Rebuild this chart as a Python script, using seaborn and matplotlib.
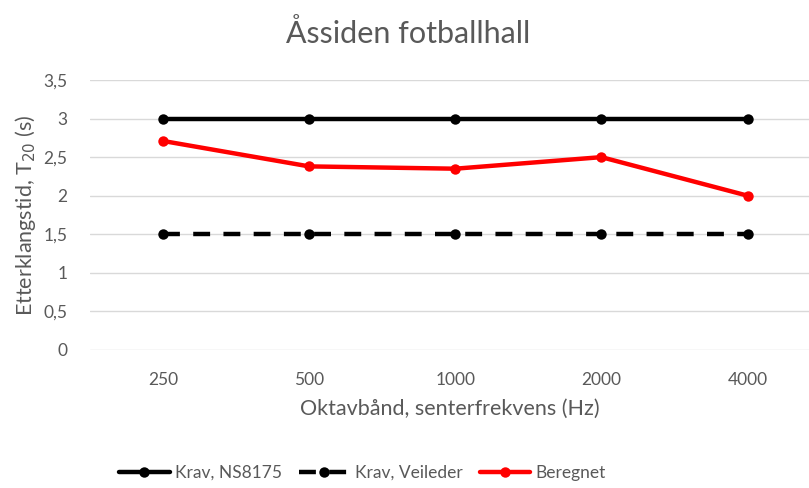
import numpy as np
import pandas as pd
import matplotlib.pyplot as plt
import seaborn as sns

# ---- data ----
freqs = ['250', '500', '1000', '2000', '4000']
krav_ns8175 = [3, 3, 3, 3, 3]
krav_veileder = [1.5, 1.5, 1.5, 1.5, 1.5]
beregnet = [2.71, 2.38, 2.35, 2.50, 2.0]

sns.set_theme(style='white')
plt.rcParams['font.family'] = ['Lato', 'DejaVu Sans']
grey = '#595959'

fig = plt.figure(figsize=(8.09, 4.88), dpi=100)
ax = fig.add_axes([0.111, 0.283, 0.889, 0.553])

sns.lineplot(x=freqs, y=krav_ns8175, sort=False, color='black', linewidth=3.2,
             marker='o', markersize=7.5, markeredgewidth=0, ax=ax, label='Krav, NS8175')
sns.lineplot(x=freqs, y=krav_veileder, sort=False, color='black', linewidth=3.2,
             marker='o', markersize=7.5, markeredgewidth=0, dashes=(3.8, 3.0),
             ax=ax, label='Krav, Veileder')
sns.lineplot(x=freqs, y=beregnet, sort=False, color='#ff0000', linewidth=3.2,
             marker='o', markersize=7.5, markeredgewidth=0, ax=ax, label='Beregnet')

ax.set_ylim(0, 3.5)
ax.set_xlim(-0.5, 4.42)
yt = np.arange(0, 3.51, 0.5)
ax.set_yticks(yt)
ax.set_yticklabels([('%g' % v).replace('.', ',') for v in yt])
ax.yaxis.grid(True, color='#d9d9d9', linewidth=1)
ax.set_axisbelow(True)
for s in ax.spines.values():
    s.set_visible(False)
ax.tick_params(axis='both', length=0, labelsize=12.5, labelcolor=grey)
ax.tick_params(axis='x', pad=16)
ax.tick_params(axis='y', pad=16)

ax.set_xlabel('Oktavbånd, senterfrekvens (Hz)', fontsize=15.5, color=grey, labelpad=8)
ax.set_ylabel('Etterklangstid, T$_{20}$ (s)', fontsize=15.5, color=grey, labelpad=4)
fig.text(0.505, 0.932, 'Åssiden fotballhall', ha='center', va='center',
         fontsize=22, color=grey)

handles, labels = ax.get_legend_handles_labels()
ax.get_legend().remove()
fig.legend(handles, labels, loc='center left', bbox_to_anchor=(0.128, 0.031),
           ncol=3, frameon=False, fontsize=12.5, handlelength=2.9,
           columnspacing=1.0, handletextpad=0.3, labelcolor=grey)

fig.savefig('out.png', dpi=100)
